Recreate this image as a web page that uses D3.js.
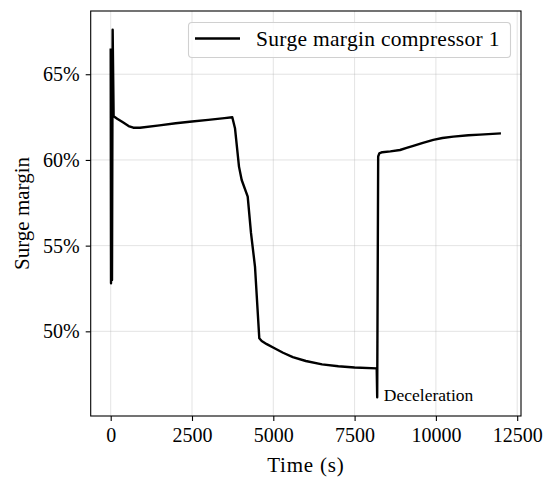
<!DOCTYPE html>
<meta charset="utf-8">
<style>
body { margin: 0; background: #fff; }
svg { font-family: "Liberation Serif", "DejaVu Serif", serif; display: block; }
.grid line { stroke: #b0b0b0; stroke-opacity: 0.45; stroke-width: 0.8; }
.axis path, .axis line { stroke: #000; stroke-width: 1.1; }
.axis text { font-size: 20px; fill: #000; font-family: "Liberation Serif", serif; }
</style>
<body>
<script src="https://d3js.org/d3.v7.min.js"></script>
<script>

// time (s)
var time = [0, 10, 30, 40, 60, 90, 200, 387, 550, 695, 900, 1500, 2000, 2500, 3000, 3500, 3739,
  3822, 3945, 4028, 4213, 4314, 4437, 4569, 4643, 4800, 5052, 5300, 5600, 6000, 6500, 7000, 7500, 8180,
  8195, 8225, 8260, 8350, 8600, 8896, 9100, 9305, 9600, 9920, 10200, 10535, 11000, 11356, 12000];
// surge margin (%)
var margin = [66.5, 52.8, 62.8, 53.0, 67.6, 62.55, 62.4, 62.18, 61.98, 61.88, 61.88, 62.02, 62.14, 62.24, 62.34, 62.44, 62.49,
  61.85, 59.61, 58.83, 57.86, 55.74, 53.78, 49.6, 49.44, 49.25, 49.0, 48.75, 48.5, 48.27, 48.07, 47.96, 47.89, 47.84,
  46.15, 60.2, 60.38, 60.45, 60.5, 60.58, 60.7, 60.82, 61.0, 61.17, 61.28, 61.36, 61.44, 61.48, 61.55];

var xTicks = [0, 2500, 5000, 7500, 10000, 12500];
var yTicks = [50, 55, 60, 65];
var seriesName = "Surge margin compressor 1";
var note = "Deceleration";

var W = 555, H = 479;
var m = {left: 90.7, right: 555 - 521, top: 11, bottom: 479 - 416};

var svg = d3.select("body").append("svg")
    .attr("width", W)
    .attr("height", H);

var x = d3.scaleLinear().domain([-615, 12617]).range([m.left, W - m.right]);
var y = d3.scaleLinear().domain([45.06, 68.69]).range([H - m.bottom, m.top]);

// grid
var grid = svg.append("g").attr("class", "grid");
grid.selectAll(".gx").data(xTicks).enter().append("line")
    .attr("x1", function(d) { return x(d); })
    .attr("x2", function(d) { return x(d); })
    .attr("y1", m.top).attr("y2", H - m.bottom);
grid.selectAll(".gy").data(yTicks).enter().append("line")
    .attr("y1", function(d) { return y(d); })
    .attr("y2", function(d) { return y(d); })
    .attr("x1", m.left).attr("x2", W - m.right);

// line
var pts = time.map(function(t, i) { return [t, margin[i]]; });
svg.append("path")
    .datum(pts)
    .attr("d", d3.line().x(function(d) { return x(d[0]); }).y(function(d) { return y(d[1]); }))
    .attr("fill", "none")
    .attr("stroke", "#000")
    .attr("stroke-width", 2.4)
    .attr("stroke-linejoin", "round");

// axes
svg.append("g").attr("class", "axis")
    .attr("transform", "translate(0," + (H - m.bottom) + ")")
    .call(d3.axisBottom(x).tickValues(xTicks).tickSize(5).tickPadding(7).tickFormat(d3.format("d")))
    .call(function(g) { g.select(".domain").remove(); });
svg.append("g").attr("class", "axis")
    .attr("transform", "translate(" + m.left + ",0)")
    .call(d3.axisLeft(y).tickValues(yTicks).tickSize(5).tickPadding(6).tickFormat(function(d) { return d + "%"; }))
    .call(function(g) { g.select(".domain").remove(); });

// frame
svg.append("rect")
    .attr("x", m.left).attr("y", m.top)
    .attr("width", W - m.right - m.left)
    .attr("height", H - m.bottom - m.top)
    .attr("fill", "none").attr("stroke", "#000").attr("stroke-width", 1.1);

// labels
svg.append("text")
    .attr("x", (m.left + W - m.right) / 2).attr("y", 472)
    .attr("text-anchor", "middle").attr("font-size", 21).attr("letter-spacing", 0.8)
    .text("Time (s)");
svg.append("text")
    .attr("transform", "translate(29," + ((m.top + H - m.bottom) / 2) + ") rotate(-90)")
    .attr("text-anchor", "middle").attr("font-size", 21)
    .text("Surge margin");

// annotation
svg.append("text")
    .attr("x", x(8400)).attr("y", y(46.15) + 4)
    .attr("font-size", 17.5)
    .text(note);

// legend
var lg = svg.append("g");
lg.append("rect")
    .attr("x", 188.5).attr("y", 22.5).attr("width", 322).attr("height", 35)
    .attr("rx", 3.5)
    .attr("fill", "#fff").attr("fill-opacity", 0.8)
    .attr("stroke", "#d0d0d0").attr("stroke-width", 1.1);
lg.append("line")
    .attr("x1", 195).attr("x2", 240).attr("y1", 38.5).attr("y2", 38.5)
    .attr("stroke", "#000").attr("stroke-width", 2.4);
lg.append("text")
    .attr("x", 256).attr("y", 46).attr("font-size", 21.5).attr("letter-spacing", 0.3)
    .text(seriesName);

</script>
</body>
